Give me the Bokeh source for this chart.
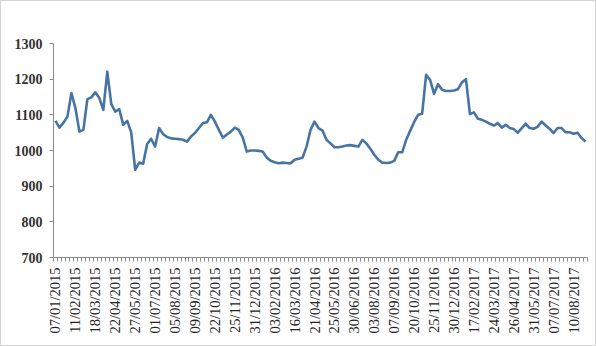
from bokeh.plotting import figure
from bokeh.models import ColumnDataSource, FixedTicker, Range1d
from bokeh.embed import file_html
from bokeh.resources import INLINE
import math

values = [
    1083, 1064, 1078, 1095, 1161, 1119, 1053, 1058, 1144, 1149,
    1163, 1147, 1114, 1221, 1130, 1109, 1116, 1072, 1083, 1051,
    946, 966, 963, 1018, 1033, 1011, 1063, 1046, 1038, 1034,
    1033, 1032, 1030, 1025, 1039, 1049, 1063, 1077, 1079, 1100,
    1081, 1058, 1036, 1045, 1053, 1064, 1058, 1036, 997, 1000,
    1000, 999, 997, 980, 971, 967, 964, 966, 965, 964,
    974, 977, 980, 1011, 1058, 1081, 1063, 1056, 1030, 1020,
    1009, 1009, 1011, 1014, 1015, 1013, 1011, 1030, 1020, 1005,
    988, 974, 966, 965, 966, 971, 995, 995, 1030, 1055,
    1080, 1100, 1103, 1212, 1198, 1159, 1186, 1170, 1167, 1167,
    1168, 1172, 1191, 1200, 1102, 1107, 1089, 1086, 1081, 1075,
    1070, 1077, 1064, 1072, 1063, 1060, 1050, 1063, 1075, 1063,
    1061, 1067, 1081, 1070, 1061, 1049, 1063, 1063, 1051, 1051,
    1047, 1050, 1035, 1025,
]

tick_labels = [
    "07/01/2015", "11/02/2015", "18/03/2015", "22/04/2015", "27/05/2015",
    "01/07/2015", "05/08/2015", "09/09/2015", "22/10/2015", "25/11/2015",
    "31/12/2015", "03/02/2016", "16/03/2016", "21/04/2016", "25/05/2016",
    "30/06/2016", "03/08/2016", "07/09/2016", "20/10/2016", "25/11/2016",
    "30/12/2016", "17/02/2017", "24/03/2017", "26/04/2017", "31/05/2017",
    "07/07/2017", "10/08/2017",
]
label_step = 5
y_ticks = [700, 800, 900, 1000, 1100, 1200, 1300]

n = len(values)
xs = list(range(n))
src = ColumnDataSource(data=dict(x=xs, y=values))

p = figure(width=596, height=346, output_backend="svg", toolbar_location=None,
           x_range=Range1d(-0.5, n - 0.5), y_range=Range1d(700, 1300),
           min_border_left=52, min_border_right=10, min_border_top=42,
           min_border_bottom=90)
p.line("x", "y", source=src, line_color="#4674a5", line_width=2.6,
       line_join="round")

p.xgrid.visible = False
p.ygrid.visible = False
p.outline_line_color = None
p.styles = {"border": "1px solid #d4d4d4", "box-sizing": "border-box"}

major = [i * label_step for i in range(len(tick_labels))]
p.xaxis.ticker = FixedTicker(ticks=major, minor_ticks=[i - 0.5 for i in range(n + 1)])
p.xaxis.major_label_overrides = {m: t for m, t in zip(major, tick_labels)}
p.xaxis.major_label_orientation = math.pi / 2
p.xaxis.major_tick_out = 0
p.xaxis.major_tick_in = 0
p.xaxis.minor_tick_out = 4
p.xaxis.minor_tick_in = 0
p.xaxis.minor_tick_line_color = "#8c8c8c"
p.xaxis.axis_line_color = "#8c8c8c"
p.xaxis.major_label_standoff = 6
p.xaxis.major_label_text_font = "Liberation Serif"
p.xaxis.major_label_text_font_size = "14.5px"
p.xaxis.major_label_text_color = "#222222"

p.yaxis.ticker = FixedTicker(ticks=y_ticks)
p.yaxis.minor_tick_line_color = None
p.yaxis.major_tick_out = 4
p.yaxis.major_tick_in = 0
p.yaxis.major_tick_line_color = "#8c8c8c"
p.yaxis.axis_line_color = "#8c8c8c"
p.yaxis.major_label_standoff = 7
p.yaxis.major_label_text_font = "Liberation Serif"
p.yaxis.major_label_text_font_size = "14px"
p.yaxis.major_label_text_font_style = "bold"
p.yaxis.major_label_text_color = "#333333"

open("out.html", "w").write(file_html(p, INLINE))
